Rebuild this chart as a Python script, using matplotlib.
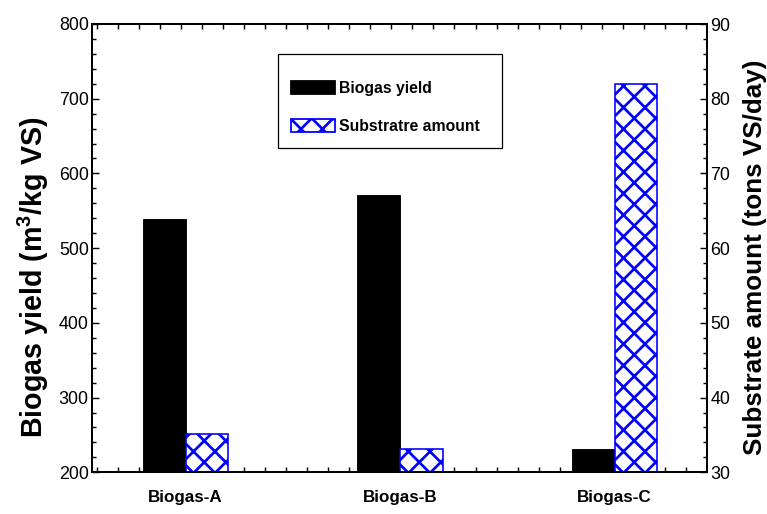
import numpy as np
import matplotlib
matplotlib.use("Agg")
import matplotlib.pyplot as plt
from matplotlib.ticker import MultipleLocator
from matplotlib.patches import Rectangle, Patch

# data
categories = ["Biogas-A", "Biogas-B", "Biogas-C"]
biogas_yield = [539, 571, 231]        # m3/kg VS, left axis
substrate_amount = [35.1, 33.1, 82.0]  # tons VS/day, right axis

DPI = 129
plt.rcParams['font.family'] = ['Liberation Sans', 'DejaVu Sans']
plt.rcParams['mathtext.fontset'] = 'custom'
plt.rcParams['mathtext.rm'] = 'Liberation Sans:bold'
plt.rcParams['mathtext.bf'] = 'Liberation Sans:bold'
plt.rcParams['hatch.linewidth'] = 1.5
plt.rcParams['hatch.color'] = 'blue'

fig = plt.figure(figsize=(767 / DPI, 514 / DPI), dpi=DPI)
ax = fig.add_axes([92.3 / 767, 1 - 472.3 / 514, (706.7 - 92.3) / 767, (472.3 - 24) / 514])
ax2 = ax.twinx()

x = np.arange(1, len(categories) + 1)
w = 0.2
ax.bar(x - w / 2, biogas_yield, w, color='black', edgecolor='black', linewidth=0.5)
ax2.bar(x + w / 2, substrate_amount, w, color='white', edgecolor='blue', hatch='xx', linewidth=0.9)

ax.set_xlim(0.5655, 3.4298)
ax.set_ylim(200, 800)
ax2.set_ylim(30, 90)

ax.set_xticks(x)
ax.set_xticklabels(categories, fontweight='bold', fontsize=9.5)
ax.xaxis.set_minor_locator(MultipleLocator(0.098))
ax.tick_params(axis='x', which='major', length=0, pad=10)
ax.tick_params(axis='x', which='minor', direction='in', length=3, width=0.8, top=True, bottom=True)

ax.yaxis.set_major_locator(MultipleLocator(100))
ax.yaxis.set_minor_locator(MultipleLocator(20))
ax.tick_params(axis='y', which='major', direction='in', length=4, width=0.8, labelsize=10, pad=2)
ax.tick_params(axis='y', which='minor', direction='in', length=2.5, width=0.8)

ax2.yaxis.set_major_locator(MultipleLocator(10))
ax2.yaxis.set_minor_locator(MultipleLocator(2))
ax2.tick_params(axis='y', which='major', direction='in', length=4, width=0.8, labelsize=10, pad=2)
ax2.tick_params(axis='y', which='minor', direction='in', length=2.5, width=0.8)

for a in (ax, ax2):
    for s in a.spines.values():
        s.set_linewidth(1.1)

fig.text(33 / 767, 1 - 277 / 514, r'Biogas yield (m$^{3}$/kg VS)', rotation=90,
         ha='center', va='center', fontsize=16, fontweight='bold')
fig.text(755 / 767, 1 - 257 / 514, 'Substrate amount (tons VS/day)', rotation=90,
         ha='center', va='center', fontsize=14.5, fontweight='bold')

# legend with a hand-drawn frame
frame = Rectangle((278 / 767, 1 - 148 / 514), (502 - 278) / 767, (148 - 54) / 514,
                  transform=fig.transFigure, facecolor='white', edgecolor='black',
                  linewidth=0.7, zorder=5)
fig.patches.append(frame)
handles = [Patch(facecolor='black', edgecolor='black', label='Biogas yield'),
           Patch(facecolor='white', edgecolor='blue', hatch='xx', label='Substratre amount')]
leg = fig.legend(handles=handles, loc='upper left', bbox_to_anchor=(280 / 767, 1 - 70 / 514),
                 frameon=False, prop={'weight': 'bold', 'size': 8.8},
                 handlelength=2.76, handleheight=0.9, handletextpad=0.3, labelspacing=1.45,
                 borderpad=0.2)
leg.set_zorder(6)

fig.savefig('out.png', dpi=DPI)
